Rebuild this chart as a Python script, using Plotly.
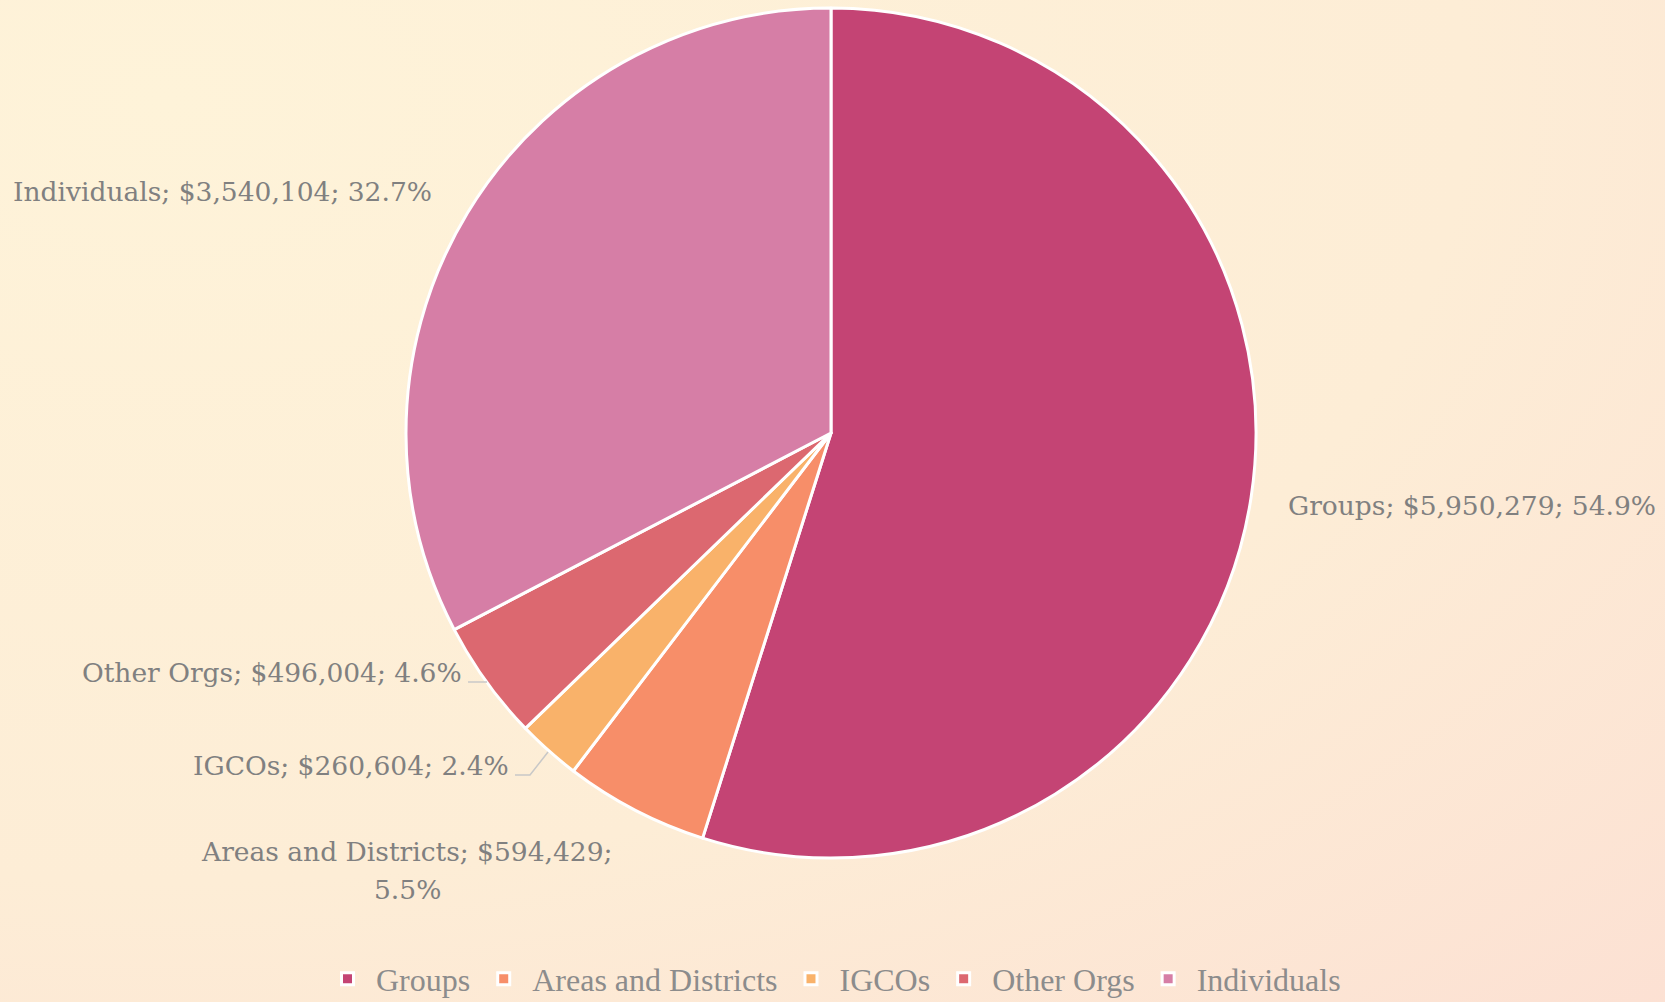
import plotly.graph_objects as go
import base64

categories = ["Groups", "Areas and Districts", "IGCOs", "Other Orgs", "Individuals"]
values = [5950279, 594429, 260604, 496004, 3540104]
colors = ["#C44474", "#F78E69", "#F9B26A", "#DC6870", "#D67EA6"]

total = sum(values)
label_texts = []
for c, v in zip(categories, values):
    label_texts.append(f"{c}; ${v:,}; {100 * v / total:.1f}%")

W, H = 1665, 1002
FONT = "DejaVu Serif"
GREY = "#808080"

fig = go.Figure()
fig.add_trace(go.Pie(
    labels=categories,
    values=values,
    sort=False,
    direction="clockwise",
    rotation=0,
    marker=dict(colors=colors, line=dict(color="#FFFFFF", width=3)),
    textinfo="none",
    hoverinfo="label+value+percent",
    domain=dict(x=[406 / W, 1256 / W], y=[1 - 858 / H, 1 - 8 / H]),
    showlegend=True,
))

svg = f'''<svg xmlns="http://www.w3.org/2000/svg" width="{W}" height="{H}">
<defs><radialGradient id="g" cx="0.1" cy="0.1" r="1.3">
<stop offset="0" stop-color="#FEF3D9"/><stop offset="0.6" stop-color="#FDEDD6"/>
<stop offset="1" stop-color="#FCE0D3"/></radialGradient></defs>
<rect width="{W}" height="{H}" fill="url(#g)"/></svg>'''
uri = "data:image/svg+xml;base64," + base64.b64encode(svg.encode()).decode()

def px(x):
    return x / W

def py(y):
    return 1 - y / H

ann = []
ann.append(dict(x=px(1286), y=py(505), xanchor="left", yanchor="middle", text=label_texts[0]))
a = label_texts[1].split("; ")
ann.append(dict(x=px(407), y=py(851), xanchor="center", yanchor="middle",
                text=f"{a[0]}; {a[1]};"))
ann.append(dict(x=px(407), y=py(889), xanchor="center", yanchor="middle", text=a[2]))
ann.append(dict(x=px(511), y=py(765), xanchor="right", yanchor="middle", text=label_texts[2]))
ann.append(dict(x=px(464), y=py(672), xanchor="right", yanchor="middle", text=label_texts[3]))
ann.append(dict(x=px(11), y=py(192), xanchor="left", yanchor="middle", text=label_texts[4]))
for d in ann:
    d.update(xref="paper", yref="paper", showarrow=False,
             font=dict(family=FONT, size=26.5, color=GREY))

shapes = [
    dict(type="path", xref="paper", yref="paper",
         path=f"M {px(468)} {py(682)} L {px(487)} {py(682)}",
         line=dict(color="#C8C8C8", width=1.5)),
    dict(type="path", xref="paper", yref="paper",
         path=f"M {px(515)} {py(775)} L {px(530)} {py(775)} L {px(548)} {py(752)}",
         line=dict(color="#C8C8C8", width=1.5)),
]

fig.update_layout(
    width=W, height=H,
    margin=dict(l=0, r=0, t=0, b=0, autoexpand=False),
    paper_bgcolor="#FDEFD8",
    plot_bgcolor="#FDEFD8",
    annotations=ann,
    shapes=shapes,
    images=[dict(source=uri, xref="paper", yref="paper", x=0, y=1, sizex=1, sizey=1,
                 xanchor="left", yanchor="top", sizing="stretch", layer="below")],
    legend=dict(orientation="h", x=0.5, xanchor="center", y=py(979), yanchor="middle",
                font=dict(family="Liberation Serif", size=32, color="#8C8C8C"),
                bgcolor="rgba(0,0,0,0)", itemwidth=47, tracegroupgap=0),
)

fig.write_html("out.html", config={"displayModeBar": False},
               post_script="document.body.style.margin='0';document.body.style.padding='0';document.body.style.overflow='hidden';")
